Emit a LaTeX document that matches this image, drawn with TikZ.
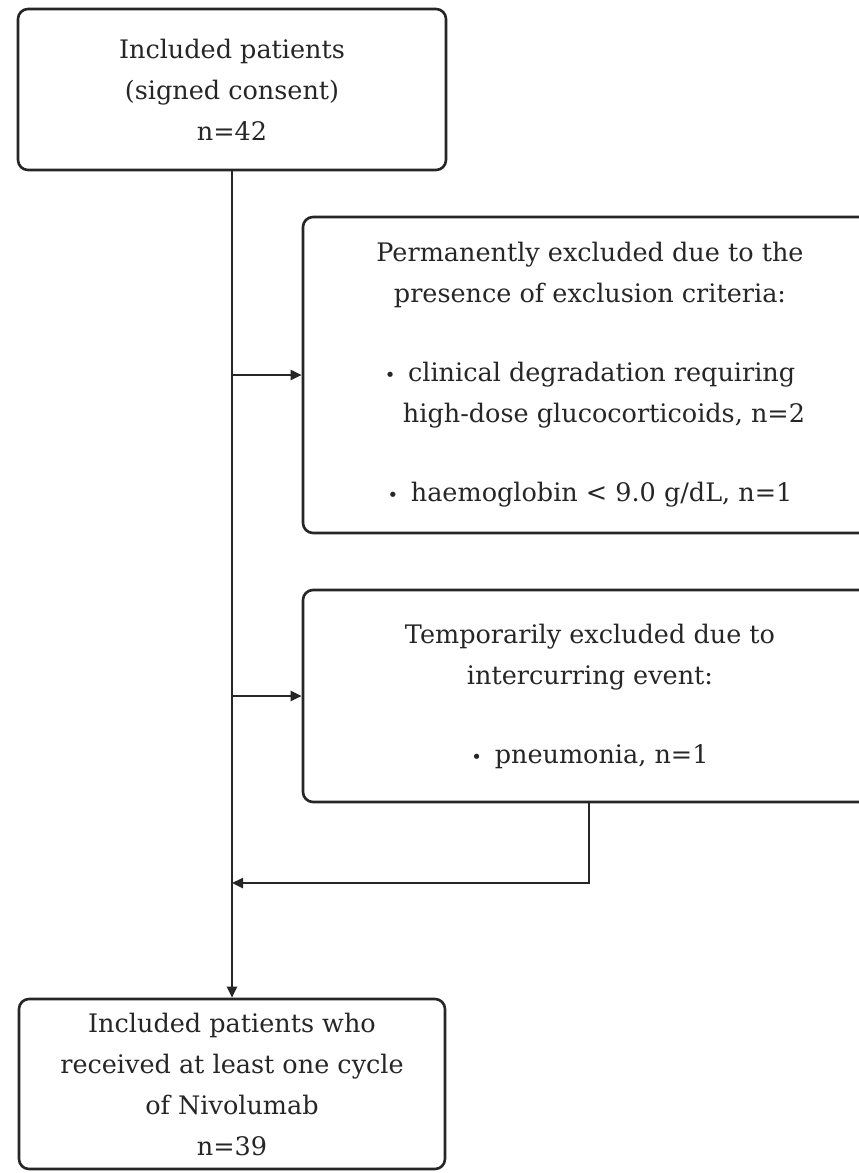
\documentclass[tikz,border=0pt]{standalone}
\usepackage{fontspec}
\setmainfont{DejaVu Serif}
\usetikzlibrary{arrows.meta, positioning}
\definecolor{ink}{HTML}{262626}
\newcommand{\bul}{{\fontsize{18}{41}\selectfont\textbullet}\enspace}

\begin{document}
\begin{tikzpicture}[x=1pt, y=-1pt,
  box/.style={draw=ink, line width=2.6pt, rounded corners=10pt, align=center,
    text=ink, font=\fontsize{25.5}{41}\selectfont, inner sep=0pt},
  flow/.style={draw=ink, line width=2.4pt, -{Triangle[length=11pt, width=10pt]}}]
\useasboundingbox (0,0) rectangle (859,1173);

\node[box, minimum width=428pt, minimum height=161pt] (incl) at (232,89.5)
  {Included patients\\(signed consent)\\n=42};
\node[box, minimum width=574pt, minimum height=316pt] (perm) at (590,375)
  {Permanently excluded due to the\\presence of exclusion criteria:\\[38pt]
   \bul clinical degradation requiring\\
   \hspace{1.1em}high-dose glucocorticoids, n=2\\[38pt]
   \bul haemoglobin < 9.0 g/dL, n=1};
\node[box, minimum width=574pt, minimum height=212pt] (temp) at (590,696)
  {Temporarily excluded due to\\intercurring event:\\[38pt]
   \bul pneumonia, n=1};
\node[box, minimum width=426pt, minimum height=170pt] (recv) at (232,1084)
  {Included patients who\\received at least one cycle\\of Nivolumab\\n=39};
\coordinate (back) at (589,883);

\draw[flow] (incl) -- (recv);
\draw[flow] (perm.west -| incl.south) -- (perm.west);
\draw[flow] (temp.west -| incl.south) -- (temp.west);
\draw[flow] (temp.south -| back) |- (back -| incl.south);
\end{tikzpicture}
\end{document}
